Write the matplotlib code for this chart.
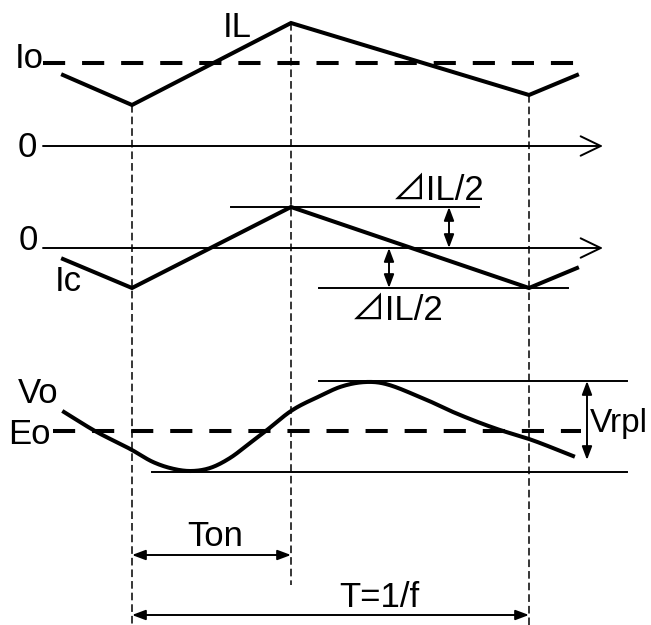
import numpy as np
import matplotlib
matplotlib.use("Agg")
import matplotlib.pyplot as plt

# ---- data (pixel-space schematic, y grows downward) ----
period_x = [132, 291, 529]              # switching instants
period_top = [105, 23, 95]              # where each marker line starts
period_bottom = [625, 585, 625]

il_x = [63, 132, 291, 529, 577]
il_y = [75, 105, 23, 95, 75]
io_level = 63

zero1 = 146
zero2 = 248
ic_x = [63, 132, 291, 529, 577]
ic_y = [259, 288, 207, 288, 268]
dil_top = 207
dil_bot = 288

eo_level = 431
vo_x = [64, 95, 132, 153, 170, 192, 210, 230, 250, 267, 291, 320, 340, 373, 420, 453, 497, 529, 573]
vo_y = [412, 431, 450, 462, 468, 471, 468, 458, 443, 430, 411, 396, 387, 382, 397, 412, 429, 439, 456]
vrpl_top = 381
vrpl_bot = 472

labels = ["Io", "IL", "0", "0", "Ic", "⊿IL/2", "⊿IL/2", "Vo", "Eo", "Vrpl", "Ton", "T=1/f"]
label_x = [15, 223, 18, 19, 55, 392, 351, 18, 8, 590, 187, 339]
label_y = [68, 37, 157, 250, 291, 200, 320, 403, 444, 432, 546, 607]
label_size = [25, 25, 25, 25, 25, 25, 25, 25, 25, 24, 25, 25]

FONT = ["Liberation Sans", "Noto Sans CJK JP", "DejaVu Sans"]

def smooth_curve(xs, ys, n=40):
    """Cubic Hermite through the read points with Bessel tangents."""
    x = np.asarray(xs, float)
    y = np.asarray(ys, float)
    h = np.diff(x)
    d = np.diff(y) / h
    m = np.empty_like(y)
    m[0], m[-1] = d[0], d[-1]
    m[1:-1] = (h[:-1] * d[1:] + h[1:] * d[:-1]) / (h[:-1] + h[1:])
    px, py = [], []
    for i in range(len(h)):
        t = np.linspace(0, 1, n, endpoint=False)
        h00 = 2 * t**3 - 3 * t**2 + 1
        h10 = t**3 - 2 * t**2 + t
        h01 = -2 * t**3 + 3 * t**2
        h11 = t**3 - t**2
        px.append(x[i] + t * h[i])
        py.append(h00 * y[i] + h10 * h[i] * m[i] + h01 * y[i + 1] + h11 * h[i] * m[i + 1])
    px.append([x[-1]])
    py.append([y[-1]])
    return np.concatenate(px), np.concatenate(py)

fig = plt.figure(figsize=(6.51, 6.25), dpi=100)
ax = fig.add_axes([0, 0, 1, 1])
ax.set_xlim(0, 651)
ax.set_ylim(625, 0)
ax.axis("off")

THICK = 2.9
THIN = 1.4

# vertical dashed markers
for x, t, b in zip(period_x, period_top, period_bottom):
    ax.plot([x, x], [t, b], color="black", lw=1.1, dashes=(5, 2.6))

# IL waveform and Io level
ax.plot([43, 577], [io_level, io_level], color="black", lw=THICK, dashes=(5.5, 4.2))
ax.plot(il_x, il_y, color="black", lw=THICK, solid_joinstyle="miter")

# zero axes with open arrows
for yz in (zero1, zero2):
    ax.annotate("", xy=(603, yz), xytext=(43, yz),
                arrowprops=dict(arrowstyle="->,head_length=1.45,head_width=0.7",
                                color="black", lw=THIN, shrinkA=0, shrinkB=0))

# Ic waveform with ΔIL/2 guides
ax.plot([231, 479], [dil_top, dil_top], color="black", lw=THIN)
ax.plot([319, 568], [dil_bot, dil_bot], color="black", lw=THIN)
ax.plot(ic_x, ic_y, color="black", lw=THICK, solid_joinstyle="miter")

def dbl_arrow(p1, p2):
    ax.annotate("", xy=p2, xytext=p1,
                arrowprops=dict(arrowstyle="<|-|>,head_length=0.8,head_width=0.3",
                                color="black", lw=THIN, shrinkA=0, shrinkB=0))

dbl_arrow((449, dil_top), (449, zero2))
dbl_arrow((389, zero2), (389, dil_bot))

# Vo waveform
ax.plot([53, 581], [eo_level, eo_level], color="black", lw=THICK, dashes=(5.5, 4.2))
ax.plot([319, 627], [vrpl_top, vrpl_top], color="black", lw=THIN)
ax.plot([152, 627], [vrpl_bot, vrpl_bot], color="black", lw=THIN)
sx, sy = smooth_curve(vo_x, vo_y)
ax.plot(sx, sy, color="black", lw=THICK)
dbl_arrow((587, vrpl_top), (587, 460))

# timing arrows
dbl_arrow((132, 555), (291, 555))
dbl_arrow((132, 615), (529, 615))

for s, x, y, fs in zip(labels, label_x, label_y, label_size):
    ax.text(x, y, s, fontsize=fs, family=FONT, ha="left", va="baseline", color="black")

fig.savefig("out.png", dpi=100)
